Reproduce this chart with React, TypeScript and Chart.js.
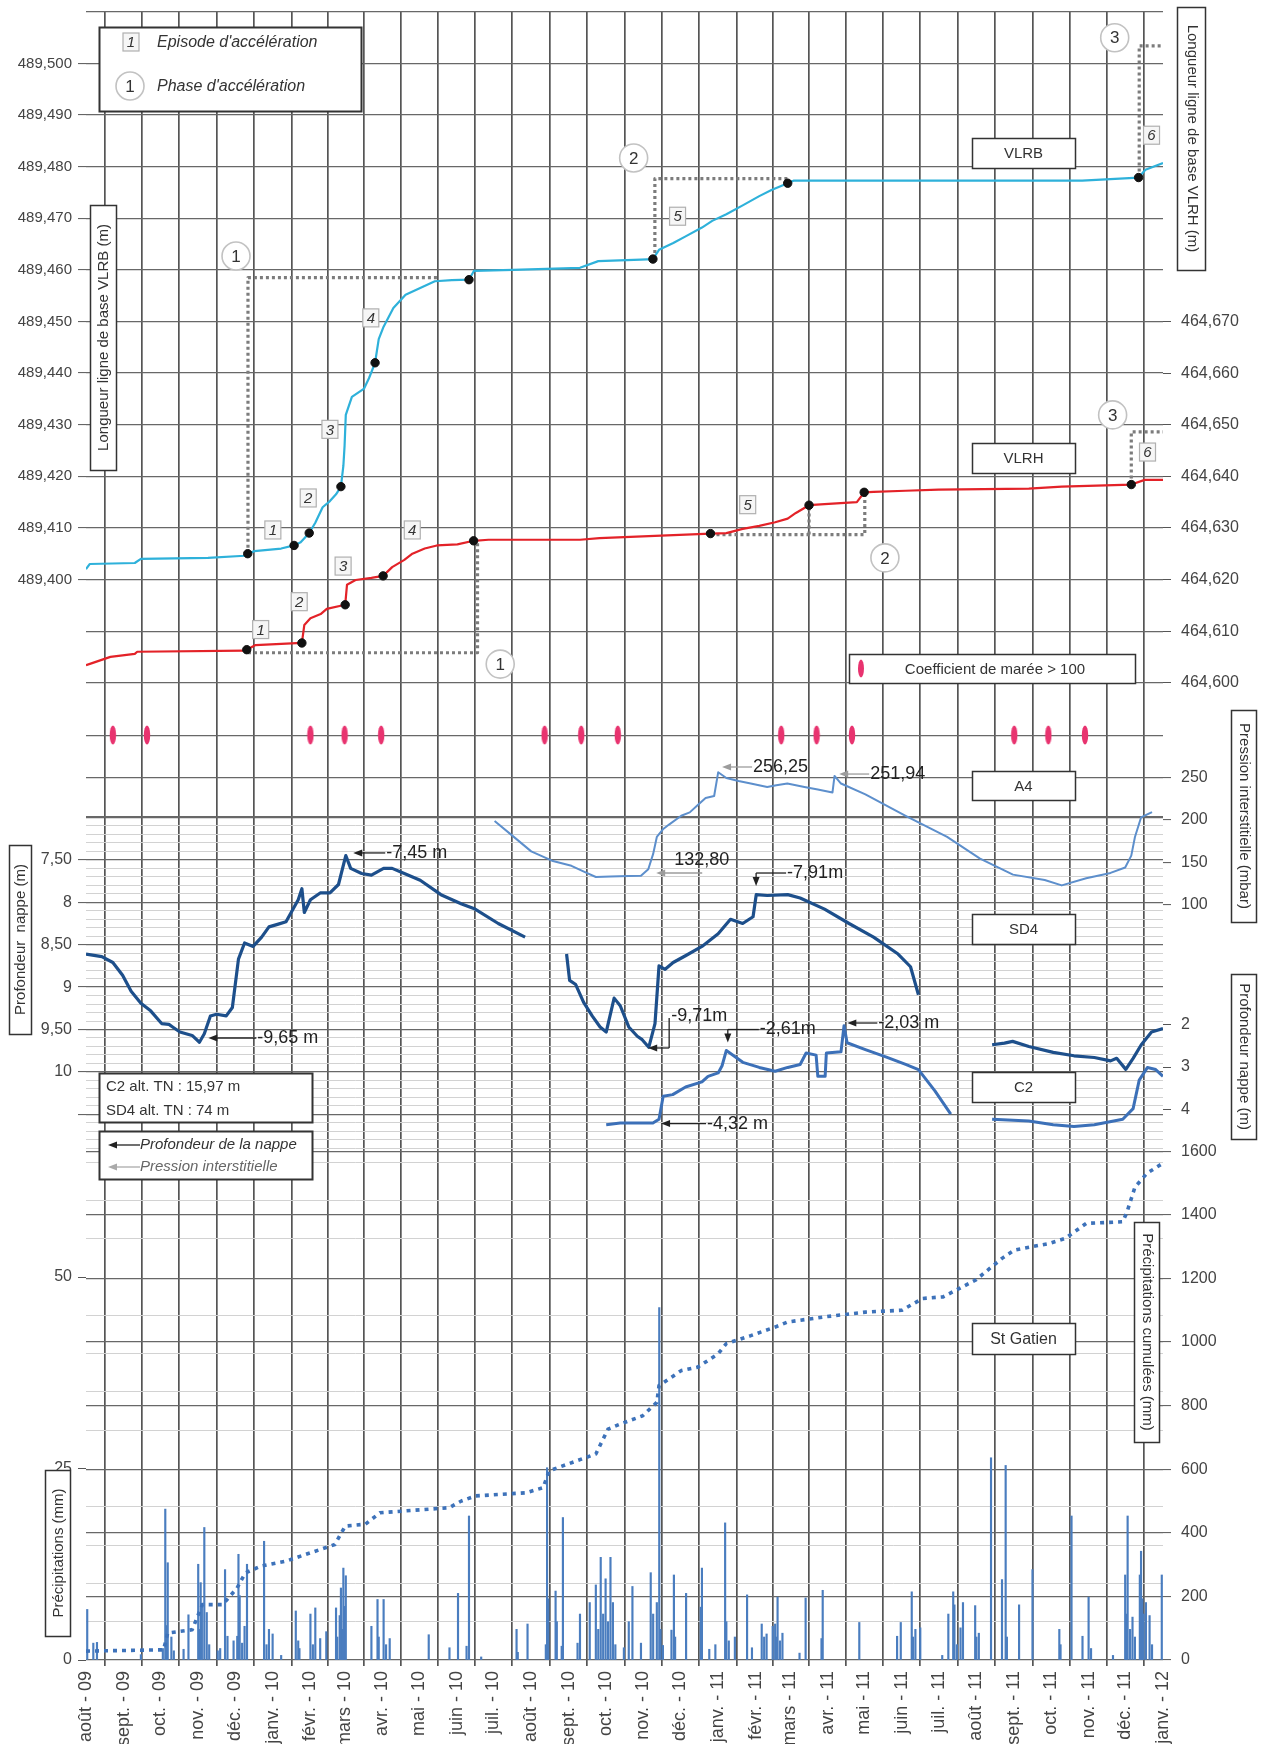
import React, { useEffect, useRef } from 'react';
import { Chart, registerables } from 'chart.js';

Chart.register(...registerables);

// ---------------- DATA ----------------
// x values are days since 1 August 2009
const MONTH_LABELS = [
  'août - 09', 'sept. - 09', 'oct. - 09', 'nov. - 09', 'déc. - 09',
  'janv. - 10', 'févr. - 10', 'mars - 10', 'avr. - 10', 'mai - 10', 'juin - 10', 'juil. - 10',
  'août - 10', 'sept. - 10', 'oct. - 10', 'nov. - 10', 'déc. - 10',
  'janv. - 11', 'févr. - 11', 'mars - 11', 'avr. - 11', 'mai - 11', 'juin - 11', 'juil. - 11',
  'août - 11', 'sept. - 11', 'oct. - 11', 'nov. - 11', 'déc. - 11', 'janv. - 12',
];

// Longueur ligne de base VLRB (m)
const VLRB: number[][] = [
  [0, 489.4020], [3, 489.4030], [40, 489.4032], [45, 489.4040], [100, 489.4042], [130, 489.4046],
  [132.6, 489.4050], [138, 489.4055], [160, 489.4060], [170.6, 489.4066], [176, 489.4072],
  [183, 489.4090], [188, 489.4110], [194, 489.4140], [200, 489.4152], [205, 489.4165],
  [209, 489.4180], [211, 489.4220], [212, 489.4259], [213, 489.4319], [218, 489.4354],
  [228, 489.4370], [232, 489.4390], [237, 489.4420], [240, 489.4466], [244, 489.4490],
  [252, 489.4526], [262, 489.4552], [274, 489.4565], [286, 489.4578], [300, 489.4580],
  [314, 489.4581], [318, 489.4598], [350, 489.4600], [405, 489.4604], [420, 489.4617],
  [455, 489.4620], [464.8, 489.4621], [469.8, 489.4639], [481.5, 489.4652], [491.6, 489.4665],
  [505, 489.4682], [513.4, 489.4695], [525, 489.4708], [538.4, 489.4725], [552, 489.4743],
  [562, 489.4755], [575.3, 489.4768], [580, 489.4773], [816.7, 489.4773], [863, 489.4779],
  [868.6, 489.4794], [883, 489.4807],
];
// Longueur ligne de base VLRH (m)
const VLRH: number[][] = [
  [0, 464.6034], [5, 464.6038], [20, 464.6050], [40, 464.6056], [42, 464.6060], [130, 464.6062],
  [131.8, 464.6064], [139, 464.6073], [177, 464.6077], [179, 464.6112], [184, 464.6125],
  [192.4, 464.6133], [197.4, 464.6143], [212.5, 464.6151], [214, 464.6190], [221, 464.6199],
  [234, 464.6203], [243.6, 464.6207], [251, 464.6224], [261, 464.6238], [267.6, 464.6250],
  [277.7, 464.6260], [287.7, 464.6266], [304.5, 464.6268], [317.8, 464.6275], [330, 464.6277],
  [405, 464.6277], [421, 464.6280], [512, 464.6289], [525, 464.6290], [538.4, 464.6298],
  [552, 464.6304], [565, 464.6311], [575.3, 464.6318], [582, 464.6329], [592.8, 464.6344],
  [605.5, 464.6346], [632, 464.6350], [638, 464.6369], [645.7, 464.6370], [672, 464.6372],
  [699, 464.6374], [773, 464.6376], [800, 464.6380], [857, 464.6384], [868, 464.6393],
  [883, 464.6393],
];
const VLRB_MARKERS: number[][] = [
  [132.6, 489.4050], [170.6, 489.4066], [183, 489.4090], [209, 489.4180], [237, 489.4420],
  [314, 489.4581], [464.8, 489.4621], [575.3, 489.4768], [863, 489.4779],
];
const VLRH_MARKERS: number[][] = [
  [131.8, 464.6064], [177, 464.6077], [212.5, 464.6151], [243.6, 464.6207], [317.8, 464.6275],
  [512, 464.6289], [592.8, 464.6344], [638, 464.6369], [857, 464.6384],
];
// dotted outlines of the acceleration phases
const PHASES_VLRB: number[][][] = [
  [[132.8, 489.4050], [132.8, 489.4585], [287.7, 489.4585]],
  [[466.4, 489.4621], [466.4, 489.4777], [575.3, 489.4777]],
  [[863.5, 489.4779], [863.5, 489.5034], [883, 489.5034]],
];
const PHASES_VLRH: number[][][] = [
  [[132.8, 464.6058], [321, 464.6058], [321, 464.6275]],
  [[512, 464.6287], [638.5, 464.6287], [638.5, 464.6369]],
  [[592.8, 464.6287], [592.8, 464.6344]],
  [[857, 464.6384], [857, 464.6486], [883, 464.6486]],
];
// Coefficient de marée > 100 (days)
const TIDE_DAYS = [22, 50, 184, 212, 242, 376, 406, 436, 570, 599, 628, 761, 789, 819];

// A4 : pression interstitielle (mbar)
const A4: number[][] = [
  [335, 198.8], [350, 181], [365, 163], [382, 152], [398, 146], [410, 138], [418, 132.8],
  [430, 133.5], [445, 134], [455, 134.3], [461, 141.9], [465, 160], [468, 180], [473, 189],
  [478, 194.6], [488, 205], [495, 209], [501.6, 217.7], [508, 226], [515, 228.3], [518.3, 256.25],
  [525, 249.5], [535, 246], [545, 243], [558.5, 239], [566, 241], [575, 243], [589, 239],
  [600, 236], [612, 232.4], [613.7, 251.94], [619, 243], [639, 230.3], [672, 205], [706, 180],
  [733, 154.5], [760, 135.6], [786, 129.2], [800, 122.9], [820, 131.4], [840, 137.6],
  [852, 144], [857, 158], [860, 180], [865, 203], [874, 209.3],
];
// SD4 : profondeur de la nappe (m)
const SD4_2009: number[][] = [
  [0, 8.61], [13, 8.64], [22, 8.71], [30, 8.86], [37, 9.05], [45, 9.19], [53, 9.28], [62, 9.43],
  [68, 9.44], [71, 9.47], [77, 9.53], [87, 9.57], [93, 9.65], [97, 9.55], [102, 9.34], [107, 9.32],
  [115, 9.34], [120, 9.24], [125, 8.67], [130, 8.48], [137, 8.52], [144, 8.41], [150, 8.29],
  [157, 8.26], [164, 8.23], [169, 8.10], [174, 7.97], [177, 7.84], [179, 8.12], [184, 7.97],
  [192, 7.89], [200, 7.89], [207, 7.79], [213, 7.45], [217, 7.60], [226, 7.66], [234, 7.68],
  [244, 7.60], [251, 7.60], [261, 7.66], [274, 7.74], [291, 7.91], [308, 8.02], [319, 8.08],
  [338, 8.25], [360, 8.41],
];
const SD4_2010: number[][] = [
  [394, 8.61], [396.5, 8.92], [401.5, 8.97], [408, 9.18], [415, 9.34], [421.5, 9.47],
  [426.5, 9.53], [433, 9.13], [438, 9.22], [445, 9.47], [452, 9.58], [456, 9.62], [461.4, 9.71],
  [466.5, 9.43], [469.8, 8.75], [474.8, 8.79], [481.4, 8.71], [491.5, 8.63], [505, 8.52],
  [518.3, 8.37], [528.4, 8.20], [538.4, 8.25], [546.9, 8.17], [549.5, 7.91], [558.5, 7.92],
  [575.3, 7.91], [585.5, 7.95], [605.5, 8.08], [625.6, 8.25], [645.7, 8.41], [665.8, 8.61],
  [676, 8.76], [682.5, 9.09],
];
const SD4_2011: number[][] = [
  [742.9, 9.68], [753, 9.66], [759.7, 9.64], [773, 9.70], [793, 9.77], [810, 9.81], [826.7, 9.83],
  [840, 9.87], [845, 9.84], [852.5, 9.97], [858.5, 9.84], [865.2, 9.68], [873.6, 9.53], [883, 9.49],
];
// C2 : profondeur de la nappe (m)
const C2_2010: number[][] = [
  [426.5, 4.36], [438, 4.32], [464.8, 4.32], [469.8, 4.23], [473.2, 3.69], [481, 3.65],
  [491.6, 3.47], [505, 3.35], [510, 3.22], [518.3, 3.14], [521.5, 2.97], [525, 2.61],
  [538.5, 2.89], [552, 3.01], [565, 3.10], [575.3, 3.01], [585.5, 2.94], [590.4, 2.67],
  [598.6, 2.72], [600, 3.22], [606, 3.22], [607, 2.67], [619, 2.64], [621.5, 2.03], [624, 2.43],
  [639, 2.59], [655.7, 2.76], [672, 2.94], [682.5, 3.06], [696, 3.56], [709, 4.11],
];
const C2_2011: number[][] = [
  [742.9, 4.23], [773, 4.27], [793, 4.36], [810, 4.40], [826.7, 4.36], [850, 4.23], [858.5, 3.98],
  [863.5, 3.31], [870.3, 3.01], [877, 3.06], [883, 3.22],
];
// St Gatien : précipitations journalières (mm)
const PRECIP: number[][] = [
  [1, 6.6], [6, 2.2], [9, 2.3], [45, 0.7], [63, 1.5], [65, 19.7], [66, 4.5], [67, 12.7], [70, 3],
  [72, 1.2], [80, 1.4], [84, 5.9], [92, 12.5], [93, 4], [94, 10.1], [95, 7], [97, 17.3], [99, 6.2],
  [101, 2], [108, 1.2], [110, 1.5], [114, 11.8], [116, 3.1], [121, 2.5], [124, 3.1], [125, 13.8],
  [126, 8.4], [128, 2.2], [130, 4.4], [132, 12.5], [146, 15.5], [148, 2], [150, 4], [153, 3.4],
  [160, 0.6], [172, 6.4], [174, 2.5], [175, 1.5], [184, 6], [186, 2], [188, 6.8], [192, 2.8],
  [197, 3.7], [205, 6.8], [206, 3], [208, 5.8], [209, 9.4], [210, 4], [211, 12], [212, 7],
  [213, 11], [234, 4.4], [239, 7.9], [240, 3], [244, 7.9], [246, 2], [249, 2.8], [281, 3.3],
  [298, 1.6], [305, 8.7], [312, 1.8], [314, 18.8], [324, 0.4], [353, 4], [354, 1], [362, 4.7],
  [377, 2], [378, 25.1], [379, 8], [385, 9], [386, 5], [390, 1.8], [391, 18.6], [403, 2.2],
  [405, 6], [413, 7.5], [418, 9.8], [420, 4], [422, 13.4], [424, 6], [426, 10.6], [428, 5],
  [430, 13.4], [432, 7.5], [434, 2], [441, 1.6], [445, 5], [448, 9.6], [455, 2.2], [463, 11.4],
  [465, 6], [468, 7.5], [470, 46], [471, 4], [473, 1.9], [480, 3.9], [482, 11.1], [483, 3],
  [492, 8.7], [504, 6.9], [505, 12], [511, 1.4], [516, 2], [524, 17.9], [525, 5], [527, 2.5],
  [532, 3], [542, 8.5], [546, 1.6], [554, 4.7], [556, 3], [558, 3.4], [563, 4.4], [565, 4.7],
  [566, 3], [567, 8.2], [569, 2.5], [571, 3.5], [585, 0.9], [590, 8.1], [603, 2.8], [604, 9.1],
  [634, 4.9], [665, 3.1], [668, 4.9], [677, 8.9], [678, 3], [680, 4], [684, 4.2], [702, 0.6],
  [707, 6], [711, 8.9], [712, 7.2], [714, 2], [717, 4.2], [719, 7.5], [729, 7.1], [730, 3],
  [732, 3.5], [742, 26.4], [751, 10.5], [754, 25.4], [755, 3], [765, 7.2], [776, 11.8],
  [798, 4], [799, 2], [808, 18.8], [817, 3.1], [822, 8.2], [824, 1.5], [842, 0.6], [852, 11.1],
  [853, 6], [854, 18.8], [856, 4], [858, 5.6], [860, 3], [864, 11.1], [865, 14.2], [866, 8],
  [867, 6], [869, 7.5], [872, 5.8], [874, 2], [882, 11.1],
];
// Précipitations cumulées (mm)
const CUMUL: number[][] = [
  [0, 28], [63.6, 32], [67, 85], [87, 95], [95.4, 174], [112, 174], [123.8, 226], [130.6, 274],
  [143.9, 296], [164, 311], [184, 337], [204, 363], [212.5, 421], [229, 427], [241, 463],
  [297.8, 479], [307.8, 500], [319.5, 516], [361, 526], [374.8, 542], [379.7, 595], [418, 648],
  [428, 726], [438, 742], [456.4, 768], [468, 810], [469.8, 863], [488, 910], [501.6, 921],
  [518.3, 963], [525, 995], [545, 1020], [565, 1047], [575.3, 1063], [605.5, 1079], [639, 1094],
  [669, 1100], [686, 1137], [702.7, 1142], [729.5, 1195], [751, 1263], [761, 1289],
  [789.8, 1310], [803, 1326], [820, 1373], [850, 1378], [853.5, 1409], [860, 1487], [870, 1531],
  [882, 1560],
];

// tick values
const VLRB_TICKS = [489.38, 489.39, 489.40, 489.41, 489.42, 489.43, 489.44, 489.45, 489.46, 489.47, 489.48, 489.49, 489.50, 489.51];
const VLRH_TICKS = [464.60, 464.61, 464.62, 464.63, 464.64, 464.65, 464.66, 464.67];
const PRESSION_TICKS = [100, 150, 200, 250, 300];
const SD4_TICKS = Array.from({ length: 40 }, (_, i) => (70 + i) / 10);
const C2_TICKS = [2, 3, 4];
const PRECIP_TICKS = [0, 5, 10, 15, 20, 25, 30, 35, 40, 45, 50, 55, 60, 65];
const CUMUL_TICKS = [0, 200, 400, 600, 800, 1000, 1200, 1400, 1600];

// ---------------- LAYOUT ----------------
const W = 1261, H = 1744;
const TOP = 12, BOTTOM = 1660, LEFT = 86, RIGHT = 1163;
const FONT = '"Liberation Sans", Arial, Helvetica, sans-serif';
const DARK = '#686868';
const LIGHT = '#d2d2d2';
const NONE = 'rgba(0,0,0,0)';

// an axis spanning the whole plot height, placing value v at pixel p with s pixels per unit
function span(v: number, p: number, s: number, reverse = false) {
  if (!reverse) return { min: v - (BOTTOM - p) / s, max: v + (p - TOP) / s };
  return { min: v - (p - TOP) / s, max: v + (BOTTOM - p) / s, reverse: true };
}
const START = Date.UTC(2009, 7, 1);
const MONTH_DAYS = MONTH_LABELS.map((_, i) => (Date.UTC(2009, 7 + i, 1) - START) / 86400000);
const comma = (v: number, d: number) => v.toFixed(d).replace('.', ',');
const pts = (a: number[][]) => a.map(([x, y]) => ({ x, y }));
const gapped = (segs: number[][][]) =>
  segs.flatMap((s, i) => [...(i ? [{ x: s[0][0], y: null as any }] : []), ...pts(s)]);
const setTicks = (vals: number[]) => (s: any) => { s.ticks = vals.map((v) => ({ value: v })); };
// zero-thickness axis boxes (fixed plot area); labels are not clipped to the (empty) box
const noPad = (s: any) => {
  s.paddingTop = 0; s.paddingBottom = 0; s.paddingLeft = 0; s.paddingRight = 0;
  s._computeLabelArea = () => undefined;
};
const zeroW = (s: any) => { s.width = 0; noPad(s); };
const zeroH = (s: any) => { s.height = 0; noPad(s); };
const near = (a: number, b: number) => Math.abs(a - b) < 1e-6;

function yAxis(position: string, rng: any, ticks: number[], label: (v: number) => string,
  gridColor: (v: number) => string, gridWidth: (v: number) => number, tickMark: (v: number) => boolean,
  size = 16) {
  return {
    type: 'linear', position, ...rng,
    afterBuildTicks: setTicks(ticks), afterFit: zeroW,
    border: { display: false },
    grid: {
      color: (c: any) => gridColor(c.tick.value),
      lineWidth: (c: any) => gridWidth(c.tick.value),
      tickColor: (c: any) => (tickMark(c.tick.value) ? '#555' : NONE),
      tickLength: 8, tickWidth: 1,
    },
    ticks: {
      autoSkip: false, padding: position === 'right' ? 10 : 6, color: '#444',
      font: { size, family: FONT },
      callback: (v: number) => label(v),
    },
  };
}

// ---------------- annotations ----------------
const PHASE_CIRCLES = [
  { n: '1', axis: 'yVLRB', d: 123, v: 489.4627 }, { n: '2', axis: 'yVLRB', d: 449, v: 489.4817 },
  { n: '3', axis: 'yVLRB', d: 843.4, v: 489.505 }, { n: '1', axis: 'yVLRH', d: 339.6, v: 464.6036 },
  { n: '2', axis: 'yVLRH', d: 655, v: 464.6242 }, { n: '3', axis: 'yVLRH', d: 841.7, v: 464.6519 },
];
const EPISODE_BOXES = [
  { n: '1', axis: 'yVLRB', d: 153.2, v: 489.4096 }, { n: '2', axis: 'yVLRB', d: 182.2, v: 489.4158 },
  { n: '3', axis: 'yVLRB', d: 200, v: 489.4291 }, { n: '4', axis: 'yVLRB', d: 233.5, v: 489.4507 },
  { n: '5', axis: 'yVLRB', d: 485, v: 489.4704 }, { n: '6', axis: 'yVLRB', d: 873.6, v: 489.4861 },
  { n: '1', axis: 'yVLRH', d: 143.2, v: 464.6103 }, { n: '2', axis: 'yVLRH', d: 174.8, v: 464.6157 },
  { n: '3', axis: 'yVLRH', d: 210.8, v: 464.6226 }, { n: '4', axis: 'yVLRH', d: 267.5, v: 464.6296 },
  { n: '5', axis: 'yVLRH', d: 542.5, v: 464.6345 }, { n: '6', axis: 'yVLRH', d: 870.3, v: 464.6447 },
];
const CALLOUTS = [
  { t: '-7,45 m', axis: 'ySD4', d: 219.1, v: 7.418, kind: 'left', len: 32, gray: false },
  { t: '-9,65 m', axis: 'ySD4', d: 100.3, v: 9.6, kind: 'left', len: 48, gray: false },
  { t: '256,25', axis: 'yA4', d: 521.5, v: 262.5, kind: 'left', len: 30, gray: true },
  { t: '251,94', axis: 'yA4', d: 617.5, v: 254.2, kind: 'left', len: 30, gray: true },
  { t: '132,80', axis: 'yA4', d: 467.5, v: 137.5, kind: 'above', len: 22, gray: true },
  { t: '-7,91m', axis: 'ySD4', d: 549.4, v: 7.808, kind: 'down', len: 30, gray: false },
  { t: '-9,71m', axis: 'ySD4', d: 460.9, v: 9.718, kind: 'bracket', len: 21, gray: false },
  { t: '-2,61m', axis: 'yC2', d: 526.2, v: 2.424, kind: 'down', len: 31, gray: false },
  { t: '-2,03 m', axis: 'yC2', d: 624.2, v: 1.965, kind: 'left', len: 30, gray: false },
  { t: '-4,32 m', axis: 'yC2', d: 471.5, v: 4.332, kind: 'left', len: 45, gray: false },
];

function rectBox(ctx: any, x: number, y: number, w: number, h: number, lw = 1.5) {
  ctx.save();
  ctx.fillStyle = '#fff';
  ctx.fillRect(x, y, w, h);
  ctx.strokeStyle = '#333';
  ctx.lineWidth = lw;
  ctx.strokeRect(x + 0.5, y + 0.5, w, h);
  ctx.restore();
}
function boxText(ctx: any, text: string, x: number, y: number, w: number, h: number, size = 15) {
  rectBox(ctx, x, y, w, h);
  ctx.save();
  ctx.fillStyle = '#333';
  ctx.font = `${size}px ${FONT}`;
  ctx.textAlign = 'center';
  ctx.textBaseline = 'middle';
  ctx.fillText(text, x + w / 2, y + h / 2 + 1);
  ctx.restore();
}
function vBox(ctx: any, text: string, x: number, y: number, w: number, h: number, angle: number) {
  rectBox(ctx, x, y, w, h);
  ctx.save();
  ctx.translate(x + w / 2 + 1, y + h / 2);
  ctx.rotate(angle);
  ctx.fillStyle = '#333';
  ctx.font = `15px ${FONT}`;
  ctx.textAlign = 'center';
  ctx.textBaseline = 'middle';
  ctx.fillText(text, 0, 0);
  ctx.restore();
}
function circleLabel(ctx: any, x: number, y: number, n: string) {
  ctx.save();
  ctx.beginPath();
  ctx.arc(x, y, 14, 0, Math.PI * 2);
  ctx.fillStyle = '#fff';
  ctx.fill();
  ctx.strokeStyle = '#c2c2c2';
  ctx.lineWidth = 1.6;
  ctx.stroke();
  ctx.fillStyle = '#333';
  ctx.font = `17px ${FONT}`;
  ctx.textAlign = 'center';
  ctx.textBaseline = 'middle';
  ctx.fillText(n, x, y + 1);
  ctx.restore();
}
function squareLabel(ctx: any, x: number, y: number, n: string) {
  ctx.save();
  ctx.fillStyle = '#f6f6f6';
  ctx.fillRect(x - 8, y - 9, 16, 18);
  ctx.strokeStyle = '#b0b0b0';
  ctx.lineWidth = 1.2;
  ctx.strokeRect(x - 8, y - 9, 16, 18);
  ctx.fillStyle = '#333';
  ctx.font = `italic 15px ${FONT}`;
  ctx.textAlign = 'center';
  ctx.textBaseline = 'middle';
  ctx.fillText(n, x, y + 1);
  ctx.restore();
}
function head(ctx: any, x: number, y: number, dir: string, color: string) {
  ctx.fillStyle = color;
  ctx.beginPath();
  if (dir === 'left') { ctx.moveTo(x, y); ctx.lineTo(x + 9, y - 3.5); ctx.lineTo(x + 9, y + 3.5); }
  else { ctx.moveTo(x, y); ctx.lineTo(x - 3.5, y - 9); ctx.lineTo(x + 3.5, y - 9); }
  ctx.closePath();
  ctx.fill();
}
function seg(ctx: any, x1: number, y1: number, x2: number, y2: number) {
  ctx.beginPath(); ctx.moveTo(x1, y1); ctx.lineTo(x2, y2); ctx.stroke();
}

const overlay = {
  id: 'overlay',
  afterDatasetsDraw(chart: any) {
    const ctx = chart.ctx;
    const px = (d: number) => chart.scales.x.getPixelForValue(d);
    const py = (a: string, v: number) => chart.scales[a].getPixelForValue(v);

    // phase circles & episode squares
    EPISODE_BOXES.forEach((e) => squareLabel(ctx, px(e.d), py(e.axis, e.v), e.n));
    PHASE_CIRCLES.forEach((c) => circleLabel(ctx, px(c.d), py(c.axis, c.v), c.n));

    // callouts
    CALLOUTS.forEach((c) => {
      const x = px(c.d), y = py(c.axis, c.v);
      const col = c.gray ? '#9c9c9c' : '#222';
      ctx.save();
      ctx.strokeStyle = col;
      ctx.lineWidth = 1.3;
      ctx.font = `18px ${FONT}`;
      ctx.textBaseline = 'middle';
      ctx.textAlign = 'left';
      let tx = x + c.len + 1, ty = y;
      if (c.kind === 'left') {
        seg(ctx, x + 6, y, x + c.len, y); head(ctx, x, y, 'left', col);
      } else if (c.kind === 'above') {
        seg(ctx, x + 6, y, x + c.len + 24, y); head(ctx, x, y, 'left', col);
        tx = x + c.len - 4; ty = y - 13;
      } else if (c.kind === 'down') {
        const yy = y - 13;
        seg(ctx, x, yy, x, y - 6); seg(ctx, x, yy, x + c.len, yy); head(ctx, x, y, 'down', col);
        ty = yy;
      } else if (c.kind === 'bracket') {
        seg(ctx, x + 6, y, x + c.len, y); seg(ctx, x + c.len, y, x + c.len, y - 30);
        head(ctx, x, y, 'left', col);
        tx = x + c.len + 2; ty = y - 32;
      }
      ctx.fillStyle = '#222';
      ctx.fillText(c.t, tx, ty);
      ctx.restore();
    });

    // series label boxes
    boxText(ctx, 'VLRB', 972, 138, 103, 30);
    boxText(ctx, 'VLRH', 972, 443, 103, 30);
    boxText(ctx, 'A4', 972, 771, 103, 29);
    boxText(ctx, 'SD4', 972, 914, 103, 30);
    boxText(ctx, 'C2', 972, 1072, 103, 30);
    boxText(ctx, 'St Gatien', 972, 1323, 103, 31, 16);

    // tide legend
    rectBox(ctx, 849, 654, 286, 29);
    ctx.save();
    ctx.fillStyle = '#e8336f';
    ctx.beginPath(); ctx.ellipse(861, 668.5, 3, 9, 0, 0, Math.PI * 2); ctx.fill();
    ctx.fillStyle = '#333'; ctx.font = `15px ${FONT}`; ctx.textAlign = 'center'; ctx.textBaseline = 'middle';
    ctx.fillText('Coefficient de marée > 100', 995, 669.5);
    ctx.restore();

    // top-left legend
    rectBox(ctx, 99, 27, 262, 84, 2);
    squareLabel(ctx, 131, 42, '1');
    circleLabel(ctx, 130, 86, '1');
    ctx.save();
    ctx.fillStyle = '#333'; ctx.font = `italic 16px ${FONT}`; ctx.textBaseline = 'middle';
    ctx.fillText("Episode d'accélération", 157, 43);
    ctx.fillText("Phase d'accélération", 157, 87);
    ctx.restore();

    // piezometer info + arrows legend
    rectBox(ctx, 99, 1073, 213, 49, 2);
    rectBox(ctx, 99, 1131, 213, 48, 2);
    ctx.save();
    ctx.fillStyle = '#333'; ctx.font = `15px ${FONT}`; ctx.textBaseline = 'middle';
    ctx.fillText('C2 alt. TN : 15,97 m', 106, 1087);
    ctx.fillText('SD4 alt. TN : 74 m', 106, 1111);
    ctx.strokeStyle = '#222'; ctx.lineWidth = 1.3;
    seg(ctx, 114, 1145, 140, 1145); head(ctx, 108, 1145, 'left', '#222');
    ctx.strokeStyle = '#aaa';
    seg(ctx, 114, 1167, 140, 1167); head(ctx, 108, 1167, 'left', '#aaa');
    ctx.font = `italic 15px ${FONT}`;
    ctx.fillStyle = '#333';
    ctx.fillText('Profondeur de la nappe', 140, 1145);
    ctx.fillStyle = '#666';
    ctx.fillText('Pression interstitielle', 140, 1167);
    ctx.restore();

    // axis title boxes
    vBox(ctx, 'Longueur ligne de base VLRB (m)', 90, 205, 26, 265, -Math.PI / 2);
    vBox(ctx, 'Profondeur  nappe (m)', 9, 845, 22, 189, -Math.PI / 2);
    vBox(ctx, 'Précipitations (mm)', 45, 1470, 25, 166, -Math.PI / 2);
    vBox(ctx, 'Longueur ligne de base VLRH (m)', 1177, 7, 28, 263, Math.PI / 2);
    vBox(ctx, 'Pression interstitielle (mbar)', 1231, 710, 25, 212, Math.PI / 2);
    vBox(ctx, 'Profondeur nappe (m)', 1231, 974, 25, 165, Math.PI / 2);
    vBox(ctx, 'Précipitations cumulées (mm)', 1134, 1222, 25, 220, Math.PI / 2);
  },
};

export default function App() {
  const ref = useRef<HTMLCanvasElement>(null);
  useEffect(() => {
    document.body.style.margin = '0';
    const tideImg = document.createElement('canvas');
    tideImg.width = 8; tideImg.height = 22;
    const tc = tideImg.getContext('2d')!;
    tc.fillStyle = '#e8336f';
    tc.beginPath(); tc.ellipse(4, 11, 3.2, 9.5, 0, 0, Math.PI * 2); tc.fill();

    const line = (data: any, yAxisID: string, color: string, width: number, order: number, extra: any = {}) => ({
      type: 'line', data, yAxisID, xAxisID: 'x', borderColor: color, borderWidth: width,
      pointRadius: 0, tension: 0, spanGaps: false, order, borderJoinStyle: 'round', ...extra,
    });
    const dots = (data: number[][], yAxisID: string) => ({
      type: 'line', data: pts(data), yAxisID, xAxisID: 'x', showLine: false,
      pointRadius: 4.2, pointBackgroundColor: '#111', pointBorderColor: '#111', order: 0,
    });
    const dotted = { borderDash: [3, 3], borderCapStyle: 'butt' };

    const chart = new Chart(ref.current as HTMLCanvasElement, {
      type: 'line',
      data: {
        datasets: [
          dots(VLRB_MARKERS, 'yVLRB'),
          dots(VLRH_MARKERS, 'yVLRH'),
          line(pts(VLRB), 'yVLRB', '#2eb1da', 2.2, 1),
          line(pts(VLRH), 'yVLRH', '#e32228', 2.2, 1),
          line(gapped(PHASES_VLRB), 'yVLRB', '#7c7c7c', 3.2, 3, dotted),
          line(gapped(PHASES_VLRH), 'yVLRH', '#7c7c7c', 3.2, 3, dotted),
          {
            type: 'line', data: TIDE_DAYS.map((d) => ({ x: d, y: 1 })), yAxisID: 'yTide', xAxisID: 'x',
            showLine: false, pointStyle: tideImg, pointRadius: 10, order: 0,
          },
          line(pts(A4), 'yA4', '#5d8fcc', 2, 1),
          line(pts(SD4_2009), 'ySD4', '#1d4f8b', 3.2, 1),
          line(pts(SD4_2010), 'ySD4', '#1d4f8b', 3.2, 1),
          line(pts(SD4_2011), 'ySD4', '#1d4f8b', 3.2, 1),
          line(pts(C2_2010), 'yC2', '#3c70b8', 3, 1),
          line(pts(C2_2011), 'yC2', '#3c70b8', 3, 1),
          line(pts(CUMUL), 'yCumul', '#3d72ba', 3.6, 2, { borderDash: [4, 5], borderCapStyle: 'butt' }),
          {
            type: 'bar', data: pts(PRECIP), yAxisID: 'yPrecip', xAxisID: 'x',
            backgroundColor: '#4a7dbf', barThickness: 1.5, grouped: false, order: 4,
          },
        ] as any,
      },
      plugins: [overlay],
      options: {
        animation: false,
        responsive: false,
        devicePixelRatio: 1,
        events: [],
        layout: { padding: { left: LEFT, right: W - RIGHT, top: TOP, bottom: H - BOTTOM } },
        plugins: { legend: { display: false }, tooltip: { enabled: false } },
        scales: {
          x: {
            type: 'linear', position: 'bottom', min: 0, max: MONTH_DAYS[MONTH_DAYS.length - 1], offset: false,
            afterBuildTicks: setTicks(MONTH_DAYS),
            afterFit: zeroH,
            border: { display: false },
            grid: { color: '#555', lineWidth: 1.7, tickLength: 6, tickColor: '#555' },
            ticks: {
              autoSkip: false, minRotation: 90, maxRotation: 90, padding: 5, color: '#444',
              font: { size: 18, family: FONT },
              callback: (_v: any, i: number) => MONTH_LABELS[i],
            },
          },
          yVLRB: yAxis('left', span(489.4, 579.5, 5160), VLRB_TICKS,
            (v) => (v > 489.3995 && v < 489.5005 ? comma(v, 3) : ''),
            () => DARK, () => 1.2, (v) => v > 489.3995 && v < 489.5005, 15),
          ySD4: yAxis('left', span(7.0, 817.5, 84.8, true), SD4_TICKS,
            (v) => {
              const i = Math.round(v * 10);
              if (i < 75 || i > 100 || i % 5) return '';
              return i % 10 ? comma(v, 2) : String(i / 10);
            },
            (v) => (Math.round(v * 10) % 5 ? LIGHT : DARK),
            (v) => (near(v, 7) ? 2.2 : Math.round(v * 10) % 5 ? 1 : 1.2),
            (v) => Math.round(v * 10) % 5 === 0 && v > 7.2),
          yPrecip: yAxis('left', span(0, BOTTOM, 7.66), PRECIP_TICKS,
            (v) => (v % 25 === 0 ? String(v) : ''),
            (v) => (v % 25 === 0 ? NONE : LIGHT), () => 1, (v) => v % 25 === 0),
          yVLRH: yAxis('right', span(464.6, 682.7, 5160), VLRH_TICKS,
            (v) => comma(v, 3), () => NONE, () => 1, () => true),
          yA4: yAxis('right', span(200, 820, 0.848), PRESSION_TICKS,
            (v) => (v <= 250 ? String(v) : ''),
            (v) => (v >= 250 ? DARK : NONE), () => 1.2, (v) => v <= 250),
          yC2: yAxis('right', span(3, 1067, 42.5, true), C2_TICKS,
            (v) => String(v), () => NONE, () => 1, () => true),
          yCumul: yAxis('right', span(0, BOTTOM, 0.318), CUMUL_TICKS,
            (v) => String(v), () => DARK, () => 1.2, () => true),
          yTide: { type: 'linear', display: false, ...span(1, 735, 100) },
        } as any,
      },
    } as any);
    return () => chart.destroy();
  }, []);
  return <canvas ref={ref} width={W} height={H} style={{ display: 'block', width: W, height: H }} />;
}
